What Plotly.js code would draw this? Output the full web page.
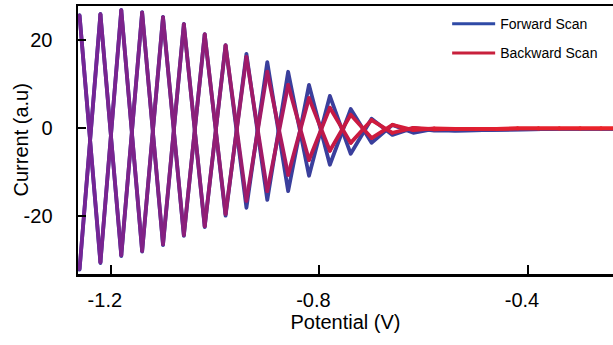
<!DOCTYPE html>
<html>
<head>
<meta charset="utf-8">
<script src="https://cdn.plot.ly/plotly-3.0.1.min.js"></script>
<style>
  html, body { margin: 0; padding: 0; background: #fff; }
  #chart { width: 613px; height: 345px; }
  .scatterlayer .js-line { stroke-linejoin: round !important; stroke-linecap: round !important; }
</style>
</head>
<body>
<div id="chart"></div>
<script>
// Peak potentials of the square-wave response (V)
const potential = [-1.26, -1.22, -1.18, -1.14, -1.10, -1.06, -1.02, -0.98, -0.94,
                   -0.90, -0.86, -0.82, -0.78, -0.74, -0.70, -0.66, -0.62, -0.58];

// Forward scan: upper and lower current extremes at each peak potential
const forwardUpper = [25.7, 26.0, 26.9, 26.4, 25.3, 23.7, 21.4, 18.9, 16.9,
                      15.0, 12.8, 9.8, 7.3, 4.3, 2.1, 0.7, 0.0, -0.2];
const forwardLower = [-32.3, -30.8, -29.2, -28.2, -26.7, -24.6, -22.6, -20.0, -18.2,
                      -16.4, -14.4, -10.9, -8.4, -5.9, -3.4, -1.6, -1.1, -0.6];

// Backward scan: upper and lower current extremes
const backwardUpper = [25.6, 25.9, 26.8, 26.3, 25.2, 23.6, 21.3, 18.8, 16.2,
                       12.8, 9.8, 6.8, 4.6, 3.0, 1.8, 0.7, 0.0, -0.1];
const backwardLower = [-32.1, -30.6, -29.0, -28.0, -26.5, -24.4, -22.4, -19.6, -16.6,
                       -14.4, -10.7, -7.3, -5.2, -3.4, -2.3, -1.1, -0.5, -0.3];

// Flat tail after the oscillation has died out
const tailPotential = [-0.54, -0.50, -0.46, -0.42, -0.38, -0.34, -0.30, -0.26, -0.22];
const forwardTail   = [-0.6, -0.5, -0.3, -0.3, -0.2, -0.2, -0.2, -0.2, -0.2];
const backwardTail  = [-0.2, -0.2, -0.2, -0.1, -0.1, -0.1, -0.1, -0.1, -0.1];

// Axis ticks
const xTickVals = [-1.2, -0.8, -0.4];
const xTickText = ['-1.2', '-0.8', '-0.4'];
const yTickVals = [-20, 0, 20];
const yTickText = ['-20', '0', '20'];

const seriesNames = ['Forward Scan', 'Backward Scan'];
const yTitle = 'Current (a.u)';

// ---- styling ----
const FONT = 'Arial, "Liberation Sans", sans-serif';
const LINE_W = 3.8;
const forwardColor = '#3a3f9c';
const legendColors = ['#2f4aa6', '#c8203c'];
// colour ramp along the backward trace (potential -> rgb)
const ramp = [
  [-1.26, [115, 38, 152]],
  [-1.06, [135, 32, 125]],
  [-0.90, [165, 25, 100]],
  [-0.78, [195, 25, 70]],
  [-0.55, [222, 30, 50]],
  [-0.22, [236, 35, 40]]
];

function rampColor(x) {
  if (x <= ramp[0][0]) return 'rgb(' + ramp[0][1].join(',') + ')';
  for (let i = 1; i < ramp.length; i++) {
    if (x <= ramp[i][0]) {
      const t = (x - ramp[i - 1][0]) / (ramp[i][0] - ramp[i - 1][0]);
      const c = ramp[i - 1][1].map((v, k) => Math.round(v + t * (ramp[i][1][k] - v)));
      return 'rgb(' + c.join(',') + ')';
    }
  }
  return 'rgb(' + ramp[ramp.length - 1][1].join(',') + ')';
}

// Two anti-phase zigzags per scan: one starts on the upper extreme, the other on the lower
function zigzags(upper, lower, tail) {
  const paths = [];
  for (let phase = 0; phase < 2; phase++) {
    const xs = [], ys = [];
    potential.forEach((p, i) => {
      xs.push(p);
      ys.push((i + phase) % 2 === 0 ? upper[i] : lower[i]);
    });
    tailPotential.forEach((p, i) => { xs.push(p); ys.push(tail[i]); });
    paths.push({ x: xs, y: ys });
  }
  return paths;
}

const traces = [];

// forward scan (drawn first, underneath)
zigzags(forwardUpper, forwardLower, forwardTail).forEach(path => {
  traces.push({
    type: 'scatter', mode: 'lines', x: path.x, y: path.y,
    line: { color: forwardColor, width: LINE_W },
    showlegend: false, hoverinfo: 'skip'
  });
});

// backward scan, split into segments so the colour can shift along the potential
zigzags(backwardUpper, backwardLower, backwardTail).forEach(path => {
  for (let i = 0; i < path.x.length - 1; i++) {
    const mid = (path.x[i] + path.x[i + 1]) / 2;
    traces.push({
      type: 'scatter', mode: 'lines',
      x: [path.x[i], path.x[i + 1]], y: [path.y[i], path.y[i + 1]],
      line: { color: rampColor(mid), width: LINE_W },
      showlegend: false, hoverinfo: 'skip'
    });
  }
});

// legend entries
seriesNames.forEach((name, k) => {
  traces.push({
    type: 'scatter', mode: 'lines', x: [null], y: [null], name: name,
    legendgroup: 'g' + k,
    line: { color: legendColors[k], width: 3 },
    showlegend: true
  });
});

const layout = {
  width: 613, height: 345,
  margin: { l: 78, r: 0, t: 6, b: 71, pad: 0 },
  paper_bgcolor: '#fff', plot_bgcolor: '#fff',
  font: { family: FONT, color: '#000' },
  showlegend: true,
  legend: {
    x: 0.69, y: 0.992, xanchor: 'left', yanchor: 'top',
    font: { family: FONT, size: 14, color: '#000' },
    bgcolor: 'rgba(0,0,0,0)', borderwidth: 0,
    itemwidth: 43,
    tracegroupgap: 8
  },
  xaxis: {
    range: [-1.263, -0.237],
    tickmode: 'array', tickvals: xTickVals, ticktext: xTickText,
    ticks: 'inside', ticklen: 9, tickwidth: 2, tickcolor: '#000',
    showline: true, linecolor: '#000', linewidth: 2.5, mirror: true,
    showgrid: false, zeroline: false,
    tickfont: { family: FONT, size: 20, color: '#000' },
    ticklabelposition: 'outside',
    ticklabelstandoff: 6, ticklabelshift: -6,
    title: { text: 'Potential (V)', font: { family: FONT, size: 20, color: '#000' }, standoff: 4 }
  },
  yaxis: {
    range: [-33.3, 27.8],
    tickmode: 'array', tickvals: yTickVals, ticktext: yTickText,
    ticks: 'inside', ticklen: 8, tickwidth: 2, tickcolor: '#000',
    showline: true, linecolor: '#000', linewidth: 2.5,
    showgrid: false, zeroline: false,
    tickfont: { family: FONT, size: 20, color: '#000' },
    ticklabelposition: 'outside',
    ticklabelstandoff: 19
  },
  // vertical axis title, placed in the left margin
  annotations: [{
    text: yTitle, textangle: -90, showarrow: false,
    xref: 'paper', yref: 'paper', x: 0, y: 0.5,
    xanchor: 'center', yanchor: 'middle', xshift: -57.5,
    font: { family: FONT, size: 20, color: '#000' }
  }]
};

Plotly.newPlot('chart', traces, layout, { staticPlot: true, displayModeBar: false });
</script>
</body>
</html>
